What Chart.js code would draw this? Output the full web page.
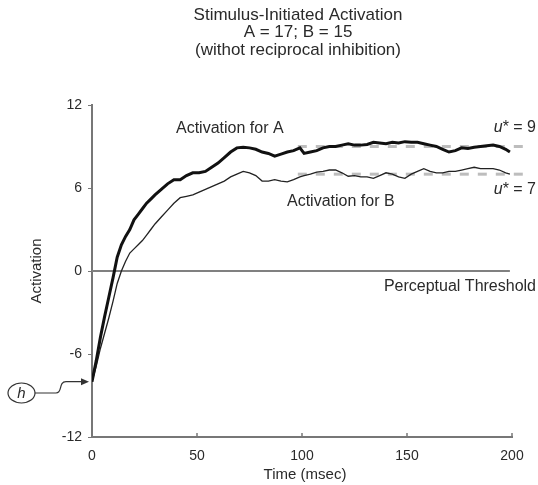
<!DOCTYPE html>
<html>
<head>
<meta charset="utf-8">
<script src="https://cdn.jsdelivr.net/npm/chart.js@4/dist/chart.umd.min.js"></script>
<style>
  body { margin: 0; background: #fff; }
  #wrap { width: 538px; height: 485px; }
</style>
</head>
<body>
<div id="wrap"><canvas id="activationChart" width="538" height="485"></canvas></div>
<script>
// values
const timeMs = [0, 2, 4, 6, 8, 10, 12, 14, 16, 18, 20, 22, 24, 26, 28, 30, 33, 36, 39, 42, 45, 48, 51, 54, 57, 60,
  63, 66, 69, 72, 75, 78, 81, 84, 87, 90, 93, 96, 99, 101, 104, 107, 110, 113, 116, 119, 122, 125, 128, 131, 134,
  137, 140, 143, 146, 149, 152, 155, 158, 161, 164, 167, 170, 173, 176, 179, 182, 185, 188, 191, 194, 197, 199];

const activationA = [-8, -6.5, -4.8, -3.3, -1.9, -0.5, 1.0, 1.9, 2.5, 3.0, 3.7, 4.1, 4.5, 4.9, 5.2, 5.5, 5.9, 6.3, 6.6,
  6.6, 6.9, 7.1, 7.1, 7.2, 7.5, 7.8, 8.2, 8.6, 8.9, 8.95, 8.9, 8.8, 8.6, 8.5, 8.3, 8.45, 8.6, 8.7, 8.9, 8.5, 8.6, 8.7,
  8.9, 9.0, 9.0, 9.1, 9.2, 9.1, 9.1, 9.15, 9.3, 9.25, 9.2, 9.3, 9.25, 9.35, 9.3, 9.3, 9.2, 9.1, 9.0, 8.8, 8.6, 8.7,
  8.9, 8.85, 8.95, 9.0, 9.05, 9.1, 9.0, 8.8, 8.6];

const activationB = [-8, -6.9, -5.6, -4.5, -3.4, -2.2, -0.9, 0.0, 0.7, 1.3, 1.6, 1.9, 2.2, 2.6, 3.0, 3.4, 3.9, 4.4, 4.9,
  5.3, 5.4, 5.5, 5.7, 5.9, 6.1, 6.3, 6.5, 6.8, 7.0, 7.2, 7.1, 6.9, 6.5, 6.5, 6.6, 6.5, 6.45, 6.6, 6.8, 6.9, 7.0, 7.15,
  7.2, 7.3, 7.3, 7.1, 6.85, 6.9, 6.8, 6.8, 6.7, 6.9, 7.1, 7.0, 6.8, 6.7, 7.0, 7.2, 7.4, 7.2, 7.1, 7.1, 7.2, 7.2, 7.3,
  7.4, 7.5, 7.4, 7.4, 7.4, 7.3, 7.1, 7.0];

const uStarA = 9;
const uStarB = 7;
const uStarSpan = [98, 207];
const thresholdSpan = [0, 199];
const hValue = -8;
const xTickValues = [0, 50, 100, 150, 200];
const yTickValues = [-12, -6, 0, 6, 12];

const titleLines = ["Stimulus-Initiated Activation", "A = 17; B = 15", "(withot reciprocal inhibition)"];

const FONT = "'Liberation Sans', Arial, Helvetica, sans-serif";
const TEXT = "#2a2a2a";

function toPoints(xs, ys) {
  return xs.map((x, i) => ({ x: x, y: ys[i] }));
}

// titles, labels, the h marker and the inward x ticks
const annotations = {
  id: "annotations",
  afterDraw(chart) {
    const ctx = chart.ctx;
    const xs = chart.scales.x;
    const ys = chart.scales.y;
    const area = chart.chartArea;
    ctx.save();
    ctx.fillStyle = TEXT;
    ctx.textBaseline = "middle";

    // title
    ctx.textAlign = "center";
    ctx.font = "17px " + FONT;
    titleLines.forEach((line, i) => ctx.fillText(line, 298, 15 + i * 17.5));

    // axis titles
    ctx.font = "15px " + FONT;
    ctx.fillText("Time (msec)", (area.left + area.right) / 2 + 3, 475);
    ctx.save();
    ctx.translate(37, (area.top + area.bottom) / 2);
    ctx.rotate(-Math.PI / 2);
    ctx.fillText("Activation", 0, 0);
    ctx.restore();

    // line labels
    ctx.font = "16px " + FONT;
    ctx.textAlign = "left";
    ctx.fillText("Activation for A", 176, 129);
    ctx.fillText("Activation for B", 287, 202);
    ctx.textAlign = "right";
    ctx.fillText("Perceptual Threshold", 536, ys.getPixelForValue(0) + 16);

    // u* labels
    function uStar(text, y) {
      ctx.font = "16px " + FONT;
      ctx.textAlign = "left";
      const rest = "* = " + text;
      const wRest = ctx.measureText(rest).width;
      ctx.font = "italic 16px " + FONT;
      const wU = ctx.measureText("u").width;
      const x0 = 536 - wRest - wU;
      ctx.fillText("u", x0, y);
      ctx.font = "16px " + FONT;
      ctx.fillText(rest, x0 + wU, y);
    }
    uStar(String(uStarA), 128);
    uStar(String(uStarB), 190);

    // inward ticks on the x axis
    ctx.strokeStyle = "#777";
    ctx.lineWidth = 1.5;
    xTickValues.slice(1).forEach(v => {
      const px = xs.getPixelForValue(v);
      ctx.beginPath();
      ctx.moveTo(px, area.bottom);
      ctx.lineTo(px, area.bottom - 4);
      ctx.stroke();
    });

    // h marker with arrow to the starting value
    const cy = 393, cx = 21.5;
    ctx.strokeStyle = "#333";
    ctx.lineWidth = 1.2;
    ctx.beginPath();
    ctx.ellipse(cx, cy, 13.5, 10, 0, 0, Math.PI * 2);
    ctx.stroke();
    ctx.font = "italic 15px " + FONT;
    ctx.textAlign = "center";
    ctx.fillText("h", cx, cy + 1);

    const ty = ys.getPixelForValue(hValue);
    const tx = xs.getPixelForValue(0) - 3;
    ctx.beginPath();
    ctx.moveTo(cx + 13.5, cy);
    ctx.lineTo(56, cy);
    ctx.bezierCurveTo(63, cy, 58, ty, 66, ty);
    ctx.lineTo(tx - 6, ty);
    ctx.stroke();
    ctx.beginPath();
    ctx.moveTo(tx, ty);
    ctx.lineTo(tx - 8, ty - 3.5);
    ctx.lineTo(tx - 8, ty + 3.5);
    ctx.closePath();
    ctx.fillStyle = "#333";
    ctx.fill();

    ctx.restore();
  }
};

const ctx = document.getElementById("activationChart").getContext("2d");

new Chart(ctx, {
  type: "line",
  data: {
    datasets: [
      {
        label: "Activation for A",
        data: toPoints(timeMs, activationA),
        borderColor: "#111",
        borderWidth: 3,
        pointRadius: 0,
        tension: 0
      },
      {
        label: "Activation for B",
        data: toPoints(timeMs, activationB),
        borderColor: "#222",
        borderWidth: 1.3,
        pointRadius: 0,
        tension: 0
      },
      {
        label: "u* A",
        data: uStarSpan.map(x => ({ x: x, y: uStarA })),
        borderColor: "#bdbdbd",
        borderWidth: 3,
        borderDash: [9, 9],
        pointRadius: 0,
        clip: false
      },
      {
        label: "u* B",
        data: uStarSpan.map(x => ({ x: x, y: uStarB })),
        borderColor: "#bdbdbd",
        borderWidth: 3,
        borderDash: [9, 9],
        pointRadius: 0,
        clip: false
      },
      {
        label: "Perceptual Threshold",
        data: thresholdSpan.map(x => ({ x: x, y: 0 })),
        borderColor: "#808080",
        borderWidth: 2,
        pointRadius: 0
      }
    ]
  },
  options: {
    responsive: false,
    animation: false,
    layout: { padding: { top: 105, right: 26, left: 0, bottom: 0 } },
    plugins: {
      legend: { display: false },
      tooltip: { enabled: false }
    },
    scales: {
      x: {
        type: "linear",
        min: 0,
        max: 200,
        afterFit: s => { s.height = 48; },
        afterBuildTicks: s => { s.ticks = xTickValues.map(v => ({ value: v })); },
        grid: { display: false },
        border: { display: true, color: "#777", width: 2 },
        ticks: { color: TEXT, font: { family: FONT, size: 14 }, padding: 3, maxRotation: 0 }
      },
      y: {
        min: -12,
        max: 12,
        afterFit: s => { s.width = 92; },
        afterBuildTicks: s => { s.ticks = yTickValues.map(v => ({ value: v })); },
        grid: { drawOnChartArea: false, drawTicks: true, tickLength: 4, color: "#777" },
        border: { display: true, color: "#777", width: 2 },
        ticks: { color: TEXT, font: { family: FONT, size: 14 }, padding: 6 }
      }
    }
  },
  plugins: [annotations]
});
</script>
</body>
</html>
